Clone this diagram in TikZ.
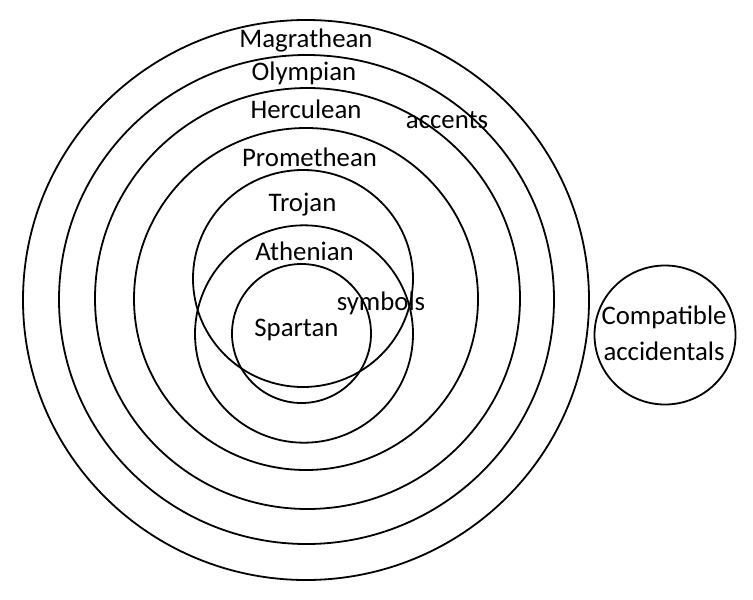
\documentclass[tikz,border=0pt]{standalone}
\usepackage{fontspec}
\setmainfont{Carlito}
\usepackage{tikz}

\begin{document}
\begin{tikzpicture}[x=0.5pt,y=-0.5pt,
      ring/.style={line width=0.9pt},
      lbl/.style={font=\fontsize{13.4}{18.2}\selectfont,anchor=base,inner sep=0pt}]
      \useasboundingbox (0,0) rectangle (753,599);

      % nested rings
      \draw[ring] (306,300) ellipse [x radius=283, y radius=280];
      \draw[ring] (306.5,299.5) ellipse [x radius=247.5, y radius=244.5];
      \draw[ring] (307.5,298.5) ellipse [x radius=212.5, y radius=210.5];
      \draw[ring] (306,299) ellipse [x radius=172, y radius=171];
      \draw[ring] (303,278.5) ellipse [x radius=110, y radius=108.5];
      \draw[ring] (304,334) ellipse [x radius=109, y radius=108.7];
      \draw[ring] (301.5,333.5) ellipse [x radius=69.5, y radius=69.5];
      % separate set
      \draw[ring] (665,335) ellipse [x radius=70.5, y radius=69.5];

      \node[lbl] (magrathean) at (306,48) {Magrathean};
      \node[lbl] (olympian) at (304,81) {Olympian};
      \node[lbl] (herculean) at (306,119) {Herculean};
      \node[lbl] (accents) at (447,128) {accents};
      \node[lbl] (promethean) at (309.5,166) {Promethean};
      \node[lbl] (trojan) at (302.5,211) {Trojan};
      \node[lbl] (athenian) at (304.5,260) {Athenian};
      \node[lbl] (symbols) at (381,310) {symbols};
      \node[lbl] (spartan) at (296.5,336) {Spartan};
      \node[lbl,anchor=center,align=center] (compatible) at (664,333)
        {Compatible\\accidentals};
\end{tikzpicture}
\end{document}
